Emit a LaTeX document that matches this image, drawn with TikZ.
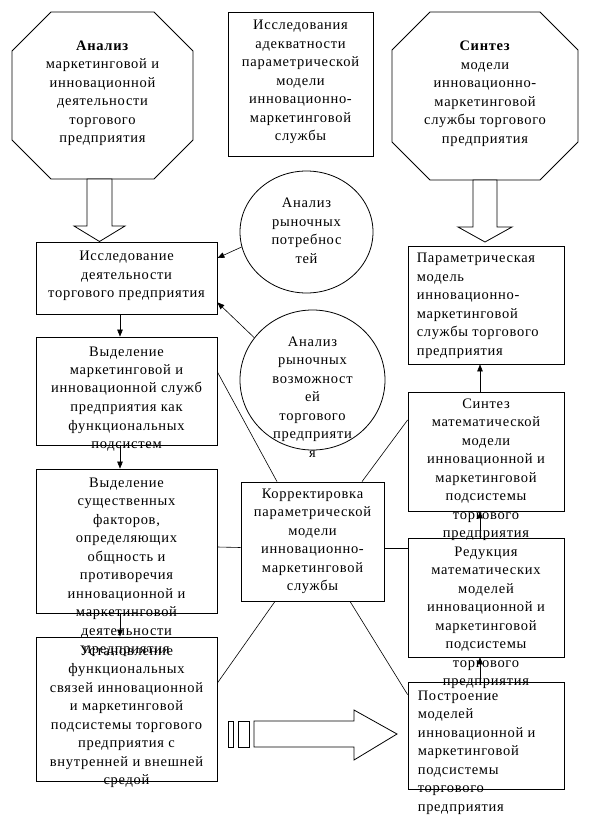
\documentclass[tikz,border=0pt]{standalone}
\usepackage{fontspec}
\setmainfont{Liberation Serif}[LetterSpace=5]
\usepackage{tikz}
\usetikzlibrary{arrows.meta,positioning,shapes.geometric}

\begin{document}
\begin{tikzpicture}[
    x=1pt, y=-1pt,
    block/.style={draw, line width=0.8pt, inner sep=0pt},
    bubble/.style={draw, ellipse, line width=0.8pt, inner sep=0pt},
    txt/.style={inner sep=0pt, align=center, font=\fontsize{14.5}{18.5}\selectfont},
    txtl/.style={txt, align=left},
    link/.style={line width=0.6pt},
    arr/.style={link, -{Triangle[length=7pt,width=5.5pt]}},
    hollow/.style={draw, line width=0.8pt, fill=white}
]
    \useasboundingbox (0,0) rectangle (601,816);

    % Top row
    \draw[block] (51,12) -- (154,12) -- (193,51) -- (193,140) -- (154,179)
        -- (51,179) -- (12,140) -- (12,51) -- cycle;
    \node[txt, anchor=north] (anal-t) at (102.5,40.7)
        {\textbf{Анализ}\\маркетинговой и\\инновационной\\деятельности\\торгового\\предприятия};
    \node[block, minimum width=145pt, minimum height=144pt] (adekv) at (300.5,84) {};
    \node[txt, below=8.7pt of adekv.north] (adekv-t)
        {Исследования\\адекватности\\параметрической\\модели\\инновационно-\\маркетинговой\\службы};
    \draw[block] (430,12) -- (540,12) -- (578,50) -- (578,142) -- (540,180)
        -- (430,180) -- (392,142) -- (392,50) -- cycle;
    \node[txt, anchor=north] (sintez-t) at (485,40.7)
        {\textbf{Синтез}\\модели\\инновационно-\\маркетинговой\\службы торгового\\предприятия};

    % Hollow arrows
    \draw[hollow] (87,179) -- (112,179) -- (112,226) -- (125,226) -- (99.5,241.5)
        -- (74,226) -- (87,226) -- cycle;
    \draw[hollow] (473,180) -- (497,180) -- (497,227) -- (512,227) -- (485,242)
        -- (458,227) -- (473,227) -- cycle;

    % Left column
    \node[block, minimum width=181pt, minimum height=72pt] (issl) at (126.5,278) {};
    \node[txt, below=9.7pt of issl.north] (issl-t)
        {Исследование\\деятельности\\торгового предприятия};
    \node[block, minimum width=181pt, minimum height=108pt] (vyd1) at (126.5,391) {};
    \node[txt, below=9.7pt of vyd1.north] (vyd1-t)
        {Выделение\\маркетинговой и\\инновационной служб\\предприятия как\\функциональных\\подсистем};
    \node[block, minimum width=181pt, minimum height=144pt] (vyd2) at (126.5,541) {};
    \node[block, minimum width=181pt, minimum height=144pt] (ust) at (126.5,709) {};
    \node[txt, below=8.7pt of ust.north] (ust-t)
        {Установление\\функциональных\\связей инновационной\\и маркетинговой\\подсистемы торгового\\предприятия с\\внутренней и внешней\\средой};
    \node[txt, below=8.7pt of vyd2.north] (vyd2-t)
        {Выделение\\существенных\\факторов,\\определяющих\\общность и\\противоречия\\инновационной и\\маркетинговой\\деятельности\\предприятия};

    % Circles
    \node[bubble, minimum width=133pt, minimum height=122pt] (potr) at (306.5,232) {};
    \node[txt] (potr-t) at (306.5,231) {Анализ\\рыночных\\потребнос\\тей};
    \node[bubble, minimum width=145pt, minimum height=140pt] (vozm) at (312.5,380) {};
    \node[txt, below=26.7pt of vozm.north] (vozm-t)
        {Анализ\\рыночных\\возможност\\ей\\торгового\\предприяти\\я};

    % Centre
    \node[block, minimum width=143pt, minimum height=119pt] (korr) at (312.5,541.5) {};
    \node[txt, below=6.7pt of korr.north] (korr-t)
        {Корректировка\\параметрической\\модели\\инновационно-\\маркетинговой\\службы};

    % Right column
    \node[block, minimum width=156pt, minimum height=118pt] (param) at (486,305) {};
    \node[txtl, below right=7.7pt and 9pt of param.north west] (param-t)
        {Параметрическая\\модель\\инновационно-\\маркетинговой\\службы торгового\\предприятия};
    \node[block, minimum width=156pt, minimum height=119pt] (sint) at (486,451.5) {};
    \node[txt, below=6.7pt of sint.north] (sint-t)
        {Синтез\\математической\\модели\\инновационной и\\маркетинговой\\подсистемы\\торгового\\предприятия};
    \node[block, minimum width=156pt, minimum height=119pt] (red) at (486,597.5) {};
    \node[txt, below=8.7pt of red.north] (red-t)
        {Редукция\\математических\\моделей\\инновационной и\\маркетинговой\\подсистемы\\торгового\\предприятия};
    \node[block, minimum width=156pt, minimum height=107pt] (postr) at (486,735.5) {};
    \node[txtl, below right=8.7pt and 10pt of postr.north west] (postr-t)
        {Построение\\моделей\\инновационной и\\маркетинговой\\подсистемы\\торгового\\предприятия};

    % Bottom arrow
    \draw[hollow] (228,721) rectangle (233,747);
    \draw[hollow] (238,721) rectangle (249,747);
    \draw[hollow] (254,721) -- (354,721) -- (354,710) -- (397,734) -- (354,760)
        -- (354,747) -- (254,747) -- cycle;

    % Arrows
    \draw[arr] ([xshift=-6.5pt]issl.south) -- ([xshift=-6.5pt]vyd1.north);
    \draw[arr] ([xshift=-6.5pt]vyd1.south) -- ([xshift=-6.5pt]vyd2.north);
    \draw[arr] ([xshift=-6.5pt]vyd2.south) -- ([xshift=-6.5pt]ust.north);
    \draw[arr] ([xshift=-6pt]postr.north) -- ([xshift=-6pt]red.south);
    \draw[arr] ([xshift=-6pt]red.north) -- ([xshift=-6pt]sint.south);
    \draw[arr] ([xshift=-6pt]sint.north) -- ([xshift=-6pt]param.south);
    \draw[arr] (potr.193) -- ([yshift=20pt]issl.east);
    \draw[arr] (vozm.144) -- ([yshift=12pt]issl.south east);

    % Links of the centre box
    \draw[link] ([yshift=-6pt]korr.west) -- ([yshift=-6pt]vyd2.east);
    \draw[link] ([yshift=-7pt]korr.east) -- ([yshift=-7pt]korr.east -| red.west);
    \draw[link] ([xshift=-35.5pt]korr.north) -- ([yshift=19pt]vyd1.east);
    \draw[link] ([xshift=49.5pt]korr.north) -- ([yshift=31.5pt]sint.west);
    \draw[link] ([xshift=-37.5pt]korr.south) -- ([yshift=26pt]ust.east);
    \draw[link] ([xshift=37.5pt]korr.south) -- ([yshift=-13pt]postr.north west);
\end{tikzpicture}
\end{document}
